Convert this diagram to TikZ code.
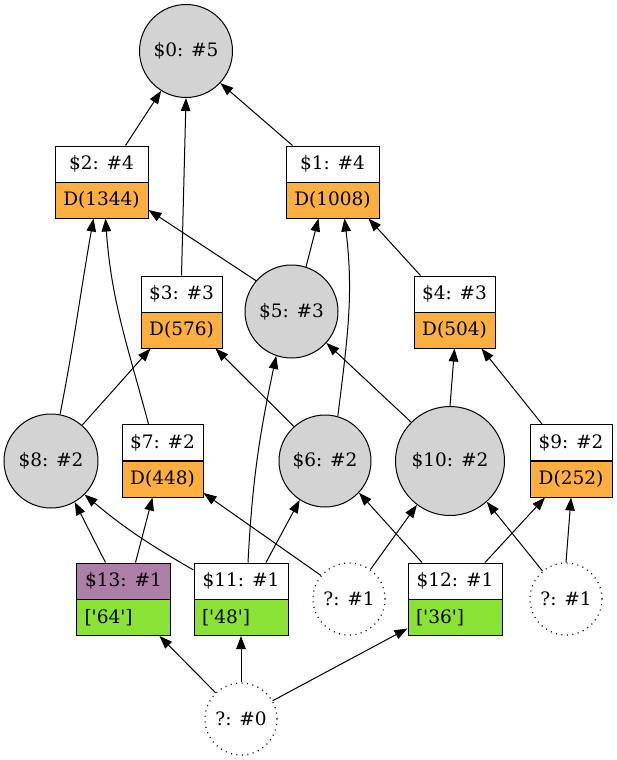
\documentclass[tikz,border=0pt]{standalone}
\usepackage{fontspec}
\setmainfont{DejaVu Serif}
\usepackage{tikz}
\usetikzlibrary{arrows.meta}
\definecolor{NodeGray}{HTML}{D3D3D3}
\definecolor{DOrange}{HTML}{FCAF3E}
\definecolor{LeafGreen}{HTML}{8AE234}
\definecolor{RootPlum}{HTML}{AD7FA8}
\newcommand{\sq}{\textquotesingle}

\begin{document}
\begin{tikzpicture}[x=1pt,y=-1pt,
    every node/.style={font=\fontsize{18.5}{20}\selectfont},
    ball/.style={circle,draw,fill=NodeGray,inner sep=0pt,line width=1pt},
    qball/.style={circle,draw,inner sep=0pt,line width=1.2pt,dash pattern=on 1pt off 4.5pt,minimum size=72pt},
    rhead/.style={draw,fill=white,minimum height=36pt,inner sep=0pt,line width=1pt},
    dbody/.style={draw,fill=DOrange,minimum height=36pt,inner sep=0pt,line width=1pt},
    gbody/.style={draw,fill=LeafGreen,minimum height=36pt,text width=78pt,inner xsep=8pt,inner ysep=0pt,align=left,line width=1pt},
    link/.style={line width=1pt,-{Triangle[length=13pt,width=9.5pt]}}]
    \useasboundingbox (0,0) rectangle (616,760);
    % upper part
    \node[ball,minimum size=93pt] (n0) at (186,51) {\$0: \#5};
    \node[rhead,minimum width=93pt] (n2h) at (101.5,164) {\$2: \#4};
    \node[dbody,minimum width=93pt] (n2d) at (101.5,200) {D(1344)};
    \node[rhead,minimum width=93pt] (n1h) at (332.5,164) {\$1: \#4};
    \node[dbody,minimum width=93pt] (n1d) at (332.5,200) {D(1008)};
    \node[rhead,minimum width=81pt] (n3h) at (181.5,294) {\$3: \#3};
    \node[dbody,minimum width=81pt] (n3d) at (181.5,330) {D(576)};
    \node[ball,minimum size=93pt] (n5) at (291.5,311.5) {\$5: \#3};
    \node[rhead,minimum width=81pt] (n4h) at (454.5,294) {\$4: \#3};
    \node[dbody,minimum width=81pt] (n4d) at (454.5,330) {D(504)};
    % middle row
    \node[ball,minimum size=94pt] (n8) at (51,461) {\$8: \#2};
    \node[rhead,minimum width=81pt] (n7h) at (162.5,442.5) {\$7: \#2};
    \node[dbody,minimum width=81pt] (n7d) at (162.5,479) {D(448)};
    \node[ball,minimum size=92pt] (n6) at (325,461) {\$6: \#2};
    \node[ball,minimum size=109pt] (n10) at (450,461) {\$10: \#2};
    \node[rhead,minimum width=82pt] (n9h) at (571,442.5) {\$9: \#2};
    \node[dbody,minimum width=82pt] (n9d) at (571,479) {D(252)};
    % leaves
    \node[rhead,minimum width=94pt,fill=RootPlum] (n13h) at (123.5,581) {\$13: \#1};
    \node[gbody] (n13d) at (123.5,617.5) {[\sq64\sq]};
    \node[rhead,minimum width=94pt] (n11h) at (241,581) {\$11: \#1};
    \node[gbody] (n11d) at (241,617.5) {[\sq48\sq]};
    \node[qball] (q1a) at (349,599) {?: \#1};
    \node[rhead,minimum width=94pt] (n12h) at (455,581) {\$12: \#1};
    \node[gbody] (n12d) at (455,617.5) {[\sq36\sq]};
    \node[qball] (q1b) at (566,599) {?: \#1};
    \node[qball] (q0) at (241,719) {?: \#0};
    % links
    \draw[link] ([xshift=24pt]n2h.north) -- (n0.238);
    \draw[link] (n3h.north) -- (n0.south);
    \draw[link] ([xshift=-40pt]n1h.north) -- (n0.317);
    \draw[link] (n5.139) -- ([yshift=-10pt]n2d.east);
    \draw[link] (n5.72) -- ([xshift=-14pt]n1d.south);
    \draw[link] (n6.74) to[out=83,in=-83] ([xshift=12pt]n1d.south);
    \draw[link] ([xshift=-34pt]n4h.north) -- ([xshift=36pt]n1d.south);
    \draw[link] (n8.79) to[out=79,in=-100] ([xshift=-8pt]n2d.south);
    \draw[link] ([xshift=-14pt]n7h.north) to[out=105,in=-86] ([xshift=4pt]n2d.south);
    \draw[link] (n8.49) -- ([xshift=-31pt]n3d.south);
    \draw[link] (n6.132) -- ([xshift=34pt]n3d.south);
    \draw[link] (n10.135) -- (n5.-42);
    \draw[link] (n10.north) -- (n4d.south);
    \draw[link] ([xshift=-29pt]n9h.north) -- ([xshift=27pt]n4d.south);
    \draw[link] ([xshift=-18pt]n13h.north) -- (n8.-60);
    \draw[link] ([xshift=12pt]n13h.north) -- ([xshift=-10pt]n7d.south);
    \draw[link] ([yshift=11pt]n11h.west) to[out=150,in=-40] (n8.-45);
    \draw[link] ([xshift=7pt]n11h.north) to[out=87,in=-102] (n5.-109);
    \draw[link] ([xshift=25pt]n11h.north) -- (n6.-123);
    \draw[link] (q1a.140) -- ([yshift=-14pt]n7d.east);
    \draw[link] (q1a.54) -- (n10.-127);
    \draw[link] ([xshift=-33pt]n12h.north) -- (n6.-43);
    \draw[link] ([xshift=30pt]n12h.north) -- ([xshift=-26pt]n9d.south);
    \draw[link] (q1b.130) -- (n10.-48);
    \draw[link] (q1b.north) -- (n9d.south);
    \draw[link] (q0.134) -- ([xshift=36pt]n13d.south);
    \draw[link] (q0.north) -- (n11d.south);
    \draw[link] (q0.30) -- ([yshift=-11pt]n12d.west);
  \end{tikzpicture}
\end{document}
